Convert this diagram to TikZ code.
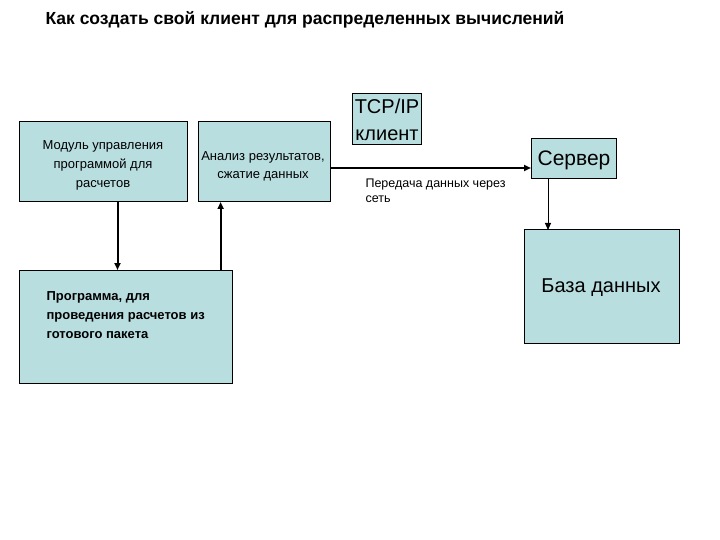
\documentclass[tikz,border=0pt]{standalone}
\usepackage{fontspec}
\setmainfont{Liberation Sans}
\usetikzlibrary{arrows.meta}
\definecolor{boxc}{HTML}{B9DEE0}
\begin{document}
\begin{tikzpicture}[x=1pt,y=-1pt,
  box/.style={draw=black,fill=boxc,line width=1pt,inner sep=0pt},
  conn/.style={line width=2pt,-{Triangle[length=7pt,width=6pt]}},
  thin/.style={line width=1pt,-{Triangle[length=7pt,width=6pt]}}]
\useasboundingbox (0,0) rectangle (720,540);
\node[anchor=west,font=\bfseries\fontsize{17.5}{20}\selectfont] (title) at (42,20) {Как создать свой клиент для распределенных вычислений};
\path[box] (19.5,122) rectangle (187,202);
\node[align=center,font=\fontsize{13}{19}\selectfont,anchor=north] (m) at (103,137) {Модуль управления\\программой для\\расчетов};
\coordinate (mod) at (117.5,202);
\path[box] (198,122) rectangle (330,202);
\node[align=center,font=\fontsize{13}{18}\selectfont,anchor=north] (an) at (263,148) {Анализ результатов,\\сжатие данных};
\coordinate (anb) at (220.6,202);
\coordinate (anr) at (330,168);
\path[box] (352.5,94) rectangle (421,145);
\node[align=center,font=\fontsize{20}{27}\selectfont] (tcp) at (387,119.5) {TCP/IP\\клиент};
\path[box] (531,139) rectangle (616,179);
\node[font=\fontsize{21}{24}\selectfont] (srv) at (574,160) {Сервер};
\coordinate (srvl) at (531,168);
\coordinate (srvb) at (548,179);
\path[box] (524,230) rectangle (679,343);
\node[font=\fontsize{20}{24}\selectfont] (db) at (601,288) {База данных};
\coordinate (dbt) at (548,230);
\path[box] (19.5,270) rectangle (232,383);
\node[align=left,font=\bfseries\fontsize{13}{19}\selectfont,anchor=north west] (pr) at (43,288) {Программа, для\\проведения расчетов из\\готового пакета};
\coordinate (prt) at (117.5,270);
\coordinate (prt2) at (220.6,270);
\node[align=left,font=\fontsize{12.5}{15}\selectfont,anchor=north west] (lbl) at (362,175) {Передача данных через\\сеть};
\draw[conn] (mod) -- (prt);
\draw[conn] (prt2) -- (anb);
\draw[conn] (anr) -- (srvl);
\draw[thin] (srvb) -- (dbt);
\end{tikzpicture}
\end{document}
